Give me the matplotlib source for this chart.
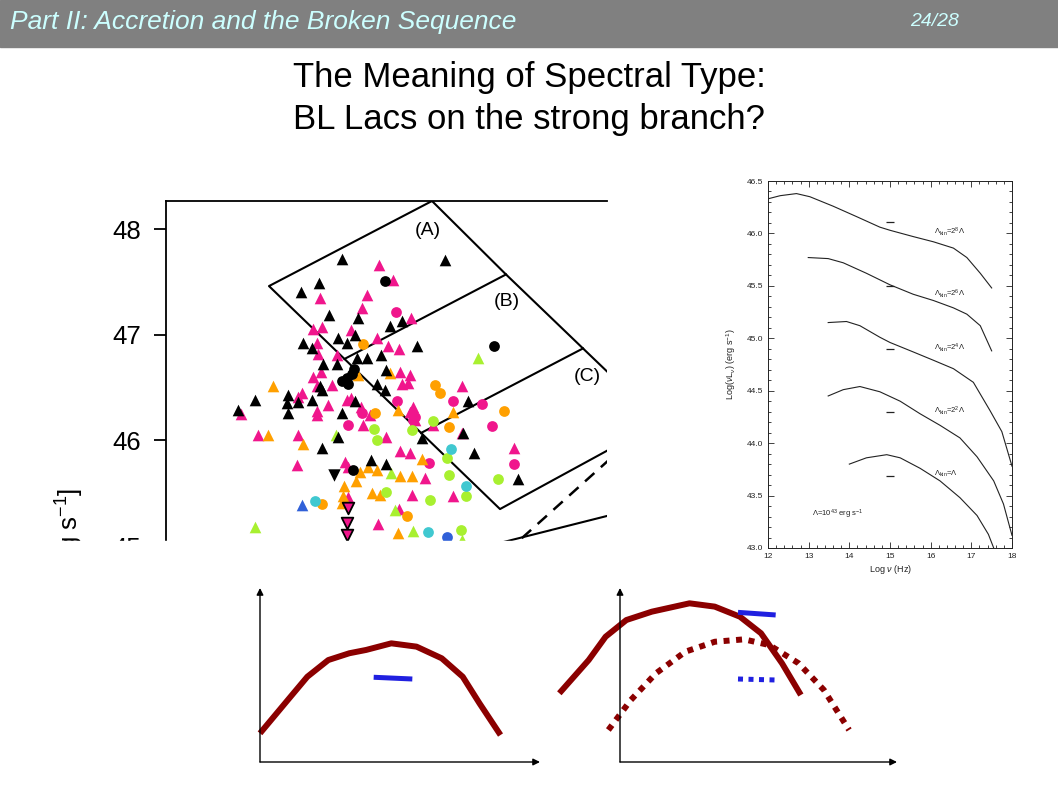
import matplotlib
matplotlib.use("Agg")
import matplotlib.pyplot as plt
from matplotlib.patches import Rectangle

plt.rcParams['font.family'] = ['Liberation Sans', 'DejaVu Sans']
plt.rcParams['mathtext.fontset'] = 'custom'
plt.rcParams['mathtext.rm'] = 'Liberation Sans'
plt.rcParams['mathtext.it'] = 'Liberation Sans:italic'

# ---- scatter panel (log nu_peak, log L_peak) ----
black_tri = [(13.76, 47.72), (14.79, 47.71), (13.53, 47.49), (13.35, 47.40), (13.63, 47.19),
             (13.92, 47.16), (14.24, 47.08), (14.36, 47.13), (13.72, 46.97), (13.81, 46.92),
             (13.89, 47.00), (13.37, 46.92), (13.46, 46.87), (14.15, 46.81), (14.51, 46.89),
             (13.57, 46.72), (13.71, 46.72), (13.91, 46.78), (14.01, 46.78), (14.20, 46.67),
             (14.11, 46.53), (13.54, 46.51), (14.19, 46.48), (13.89, 46.37), (13.76, 46.26),
             (13.56, 46.48), (13.46, 46.38), (13.22, 46.43), (13.32, 46.36), (13.21, 46.35),
             (13.22, 46.26), (12.89, 46.38), (12.72, 46.29), (13.72, 46.03), (13.56, 45.93),
             (14.05, 45.81), (14.20, 45.78), (14.56, 46.02), (15.02, 46.37), (14.97, 46.07),
             (15.08, 45.88), (15.52, 45.63)]
black_circ = [(14.19, 47.51), (15.28, 46.89), (13.76, 46.56), (13.82, 46.53), (13.86, 46.63),
              (13.81, 46.59), (13.88, 46.68), (13.87, 45.72)]
black_down = [(13.68, 45.67)]
pink_down = [(13.82, 45.36), (13.81, 45.22), (13.81, 45.10)]
pink_tri = [(14.13, 47.66), (14.27, 47.52), (13.54, 47.35), (14.01, 47.38), (13.96, 47.25),
            (14.45, 47.16), (13.47, 47.05), (13.56, 47.07), (13.85, 47.04), (13.51, 46.92),
            (13.52, 46.82), (14.11, 46.97), (14.22, 46.89), (14.33, 46.86), (13.71, 46.81),
            (14.34, 46.65), (14.44, 46.62), (14.36, 46.53), (14.42, 46.54), (13.47, 46.60),
            (13.55, 46.65), (13.51, 46.51), (13.66, 46.52), (13.85, 46.40), (13.36, 46.45),
            (13.32, 46.41), (13.51, 46.28), (13.51, 46.24), (13.62, 46.33), (13.81, 46.38),
            (13.97, 46.15), (14.04, 46.24), (13.95, 46.32), (14.44, 46.27), (14.49, 46.19),
            (14.96, 46.51), (14.20, 46.03), (12.75, 46.25), (12.92, 46.05),
            (13.32, 46.05), (13.31, 45.77), (13.79, 45.80), (13.82, 45.75), (14.34, 45.90),
            (14.44, 45.88), (14.59, 45.64), (14.46, 45.48), (14.87, 45.47), (15.48, 45.93),
            (13.82, 45.46), (14.12, 45.21), (14.33, 45.35), (14.47, 46.32), (14.67, 46.15),
            (14.96, 46.07)]
pink_circ = [(14.30, 47.21), (13.82, 46.15), (14.31, 46.37), (14.49, 46.22), (14.87, 46.37),
             (15.16, 46.34), (15.26, 46.14), (14.63, 45.79), (15.48, 45.78), (14.47, 46.19),
             (13.96, 46.26)]
orange_tri = [(13.07, 46.51), (13.02, 46.05), (13.37, 45.97), (13.92, 46.62), (14.24, 46.64),
              (14.32, 46.29), (14.87, 46.27), (14.56, 45.82), (13.94, 45.70), (14.02, 45.75),
              (14.11, 45.72), (13.90, 45.62), (13.78, 45.57), (13.77, 45.47), (14.06, 45.50),
              (14.14, 45.48), (14.34, 45.66), (14.46, 45.66), (14.32, 45.12), (13.76, 45.41)]
orange_circ = [(13.97, 46.91), (14.69, 46.52), (14.74, 46.45), (15.38, 46.28), (14.09, 46.26),
               (14.83, 46.13), (13.56, 45.40), (14.41, 45.28)]
green_tri = [(15.12, 46.78), (12.89, 45.18), (13.70, 46.05), (14.25, 45.69), (14.29, 45.34),
             (14.47, 45.14), (14.96, 45.06)]
green_circ = [(14.08, 46.11), (14.11, 46.00), (14.20, 45.51), (14.46, 46.10), (14.67, 46.18),
              (14.81, 45.83), (14.83, 45.67), (15.00, 45.47), (15.32, 45.63), (14.64, 45.44),
              (14.95, 45.15)]
cyan_circ = [(13.49, 45.43), (14.85, 45.92), (15.00, 45.57), (14.62, 45.13)]
blue_tri = [(13.36, 45.39)]
blue_circ = [(14.81, 45.09)]

# region boxes (A), (B), (C)
box_outer_x = [14.66, 13.03, 15.34, 16.60]
box_outer_y = [48.265, 47.46, 45.35, 46.00]
box_right_x = [14.66, 15.40, 16.17, 16.60]
box_right_y = [48.265, 47.57, 46.87, 46.48]
line_ab_x = [13.784, 15.40]
line_ab_y = [46.77, 47.57]
line_bc_x = [14.55, 16.17]
line_bc_y = [46.07, 46.87]
dash_x = [15.40, 16.60]
dash_y = [44.94, 45.96]
low_x = [15.30, 16.60]
low_y = [45.02, 45.33]
region_labels = ['(A)', '(B)', '(C)']
region_x = [14.62, 15.41, 16.21]
region_y = [47.99, 47.31, 46.60]

# ---- model SEDs (right panel) ----
sed1_x = [12.0, 12.3, 12.7, 13.03, 13.6, 14.18, 14.75, 15.0, 15.57, 16.07, 16.56, 16.89, 17.22, 17.5]
sed1_y = [46.33, 46.36, 46.38, 46.35, 46.26, 46.16, 46.06, 46.03, 45.97, 45.92, 45.86, 45.77, 45.62, 45.48]
sed2_x = [12.99, 13.48, 13.85, 14.42, 15.0, 15.57, 16.07, 16.56, 16.89, 17.22, 17.5]
sed2_y = [45.77, 45.76, 45.72, 45.62, 45.51, 45.42, 45.36, 45.29, 45.23, 45.12, 44.88]
sed3_x = [13.48, 13.93, 14.26, 14.75, 15.0, 15.57, 16.07, 16.56, 17.05, 17.46, 17.75, 18.0]
sed3_y = [45.15, 45.16, 45.12, 45.01, 44.96, 44.87, 44.79, 44.71, 44.58, 44.31, 44.11, 43.78]
sed4_x = [13.48, 13.85, 14.26, 14.75, 15.25, 15.74, 16.23, 16.72, 17.14, 17.55, 17.79, 18.0]
sed4_y = [44.45, 44.51, 44.54, 44.49, 44.40, 44.28, 44.17, 44.05, 43.87, 43.64, 43.42, 43.12]
sed5_x = [14.0, 14.42, 14.92, 15.25, 15.74, 16.23, 16.72, 17.14, 17.42, 17.55]
sed5_y = [43.80, 43.86, 43.89, 43.86, 43.76, 43.64, 43.48, 43.31, 43.13, 43.0]
seds = [(sed1_x, sed1_y), (sed2_x, sed2_y), (sed3_x, sed3_y), (sed4_x, sed4_y), (sed5_x, sed5_y)]
opt_x = 15.0
opt_y = [46.11, 45.50, 44.90, 44.30, 43.69]
sed_labels = [r'$\Lambda_{\rm kin}$=2$^8\Lambda$', r'$\Lambda_{\rm kin}$=2$^6\Lambda$',
              r'$\Lambda_{\rm kin}$=2$^4\Lambda$', r'$\Lambda_{\rm kin}$=2$^2\Lambda$',
              r'$\Lambda_{\rm kin}$=$\Lambda$']
sed_label_x = 16.07
sed_label_y = [46.02, 45.42, 44.91, 44.31, 43.71]

# ---- cartoon sketches (axes-fraction units) ----
left_x = [0.0, 0.109, 0.169, 0.244, 0.319, 0.379, 0.469, 0.559, 0.649, 0.724, 0.784, 0.859]
left_y = [0.165, 0.375, 0.49, 0.586, 0.625, 0.644, 0.682, 0.663, 0.596, 0.49, 0.337, 0.155]
left_blue_x = [0.406, 0.544]
left_blue_y = [0.487, 0.477]
right_x = [-0.219, -0.113, -0.052, 0.023, 0.115, 0.251, 0.342, 0.433, 0.509, 0.585, 0.653]
right_y = [0.395, 0.586, 0.72, 0.816, 0.864, 0.912, 0.893, 0.835, 0.74, 0.567, 0.385]
right_blue_x = [0.426, 0.562]
right_blue_y = [0.86, 0.845]
dot_x = [-0.042, 0.039, 0.13, 0.236, 0.342, 0.448, 0.539, 0.645, 0.736, 0.827]
dot_y = [0.184, 0.356, 0.51, 0.634, 0.691, 0.705, 0.672, 0.567, 0.414, 0.184]
dot_blue_x = [0.426, 0.57]
dot_blue_y = [0.477, 0.471]

W, H = 1058, 793
fig = plt.figure(figsize=(W / 100, H / 100), dpi=100)
fig.patch.set_facecolor('white')


def rect(x0, y0, x1, y1):
    # pixel box (top-left origin) -> figure fraction
    return [x0 / W, 1 - y1 / H, (x1 - x0) / W, (y1 - y0) / H]


# header band
fig.add_artist(Rectangle((0, 1 - 47 / H), 1, 47 / H, transform=fig.transFigure,
                         color='#808080', zorder=0))
fig.text(10 / W, 1 - 22 / H, 'Part II: Accretion and the Broken Sequence', style='italic',
         fontsize=19, color='#ccffff', va='center', ha='left')
fig.text(910 / W, 1 - 22 / H, '24/28', style='italic', fontsize=14, color='#ccffff',
         va='center', ha='left')
fig.text(529 / W, 1 - 78 / H, 'The Meaning of Spectral Type:', fontsize=25, ha='center', va='center')
fig.text(529 / W, 1 - 120 / H, 'BL Lacs on the strong branch?', fontsize=25, ha='center', va='center')

# scatter panel
ax = fig.add_axes(rect(166, 201, 607, 560))
ax.set_xlim(12.0, 16.41)
ax.set_ylim(44.868, 48.265)
for sp in ['right', 'bottom']:
    ax.spines[sp].set_visible(False)
for sp in ['left', 'top']:
    ax.spines[sp].set_linewidth(1.3)
ax.set_xticks([])
ax.set_yticks([45, 46, 47, 48])
ax.tick_params(axis='y', labelsize=18.5, length=9, width=1.3, pad=9)

ax.plot(box_outer_x, box_outer_y, color='black', lw=1.5)
ax.plot(box_right_x, box_right_y, color='black', lw=1.5)
ax.plot(line_ab_x, line_ab_y, color='black', lw=1.5)
ax.plot(line_bc_x, line_bc_y, color='black', lw=1.5)
ax.plot(dash_x, dash_y, color='black', lw=1.8, ls=(0, (5, 3.5)))
ax.plot(low_x, low_y, color='black', lw=1.5)
for lab, x, y in zip(region_labels, region_x, region_y):
    ax.text(x, y, lab, fontsize=14, ha='center', va='center')

groups = [
    (pink_tri, '#f0168c', '^', 70),
    (pink_circ, '#f0168c', 'o', 60),
    (orange_tri, '#ffa000', '^', 70),
    (orange_circ, '#ffa000', 'o', 60),
    (green_tri, '#a8f030', '^', 70),
    (green_circ, '#a8f030', 'o', 60),
    (cyan_circ, '#40c8d0', 'o', 60),
    (blue_tri, '#3060d8', '^', 70),
    (blue_circ, '#3060d8', 'o', 60),
    (black_tri, 'black', '^', 70),
    (black_circ, 'black', 'o', 60),
    (black_down, 'black', 'v', 80),
]
for pts, col, mk, s in groups:
    xs = [p[0] for p in pts]
    ys = [p[1] for p in pts]
    ax.scatter(xs, ys, s=s, c=col, marker=mk, linewidths=0, zorder=3)
ax.scatter([p[0] for p in pink_down], [p[1] for p in pink_down], s=70, c='#f0168c',
           marker='v', edgecolors='black', linewidths=1.3, zorder=3)

fig.text(70 / W, 1 - 488 / H, r'[erg s$^{-1}$]', rotation=90, fontsize=18.5,
         ha='center', va='top')

# the scanned figure is cropped at the bottom
fig.add_artist(Rectangle((0, 1 - 578 / H), 620 / W, 37 / H, transform=fig.transFigure,
                         color='white', zorder=5))
fig.add_artist(Rectangle((0, 1 - 700 / H), 240 / W, 130 / H, transform=fig.transFigure,
                         color='white', zorder=5))

# right panel: model SEDs
ax2 = fig.add_axes(rect(768, 181, 1012, 548))
ax2.set_xlim(12, 18)
ax2.set_ylim(43.0, 46.5)
for (sx, sy) in seds:
    ax2.plot(sx, sy, color='#222222', lw=0.8)
ax2.plot([opt_x] * len(opt_y), opt_y, ls='none', marker='_', ms=6, mew=0.9, color='#222222')
for lab, y in zip(sed_labels, sed_label_y):
    ax2.text(sed_label_x, y, lab, fontsize=5.5, ha='left', va='center', color='#222222')
ax2.text(13.07, 43.32, r'$\Lambda$=10$^{43}$ erg s$^{-1}$', fontsize=5.5, ha='left',
         va='center', color='#222222')
ax2.set_xticks(range(12, 19))
ax2.set_yticks([43.0, 43.5, 44.0, 44.5, 45.0, 45.5, 46.0, 46.5])
ax2.set_yticklabels(['%.1f' % v for v in ax2.get_yticks()])
ax2.minorticks_on()
ax2.tick_params(which='both', direction='in', top=True, right=True, labelsize=6,
                colors='#222222', width=0.6)
ax2.tick_params(which='major', length=4)
ax2.tick_params(which='minor', length=2)
for sp in ax2.spines.values():
    sp.set_linewidth(0.7)
    sp.set_color('#222222')
ax2.set_xlabel(r'Log $\nu$ (Hz)', fontsize=6.5, labelpad=2, color='#222222')
ax2.set_ylabel(r'Log($\nu$L$_\nu$) (erg s$^{-1}$)', fontsize=6.5, labelpad=6, color='#222222')

# cartoon sketches
red = '#8b0000'
blue = '#2020e0'
s1 = fig.add_axes(rect(260, 588, 540, 762), zorder=6)
s2 = fig.add_axes(rect(620, 588, 897, 762), zorder=6)
for s in (s1, s2):
    s.set_xlim(0, 1)
    s.set_ylim(0, 1)
    s.axis('off')
    for tip in [(0, 1), (1, 0)]:
        s.annotate('', xy=tip, xytext=(0, 0), xycoords='data',
                   arrowprops=dict(arrowstyle='-|>', color='black', lw=1,
                                   mutation_scale=10, shrinkA=0, shrinkB=0))

s1.plot(left_x, left_y, color=red, lw=4.3, solid_joinstyle='round', solid_capstyle='butt', clip_on=False)
s1.plot(left_blue_x, left_blue_y, color=blue, lw=3.6, solid_capstyle='butt', clip_on=False)
s2.plot(right_x, right_y, color=red, lw=4.3, solid_joinstyle='round', solid_capstyle='butt', clip_on=False)
s2.plot(right_blue_x, right_blue_y, color=blue, lw=3.6, solid_capstyle='butt', clip_on=False)
s2.plot(dot_x, dot_y, color=red, lw=4.3, ls=(0, (1, 1.1)), dash_capstyle='butt', clip_on=False)
s2.plot(dot_blue_x, dot_blue_y, color=blue, lw=3.6, ls=(0, (1, 1.1)), dash_capstyle='butt', clip_on=False)

fig.savefig('out.png', dpi=100)
